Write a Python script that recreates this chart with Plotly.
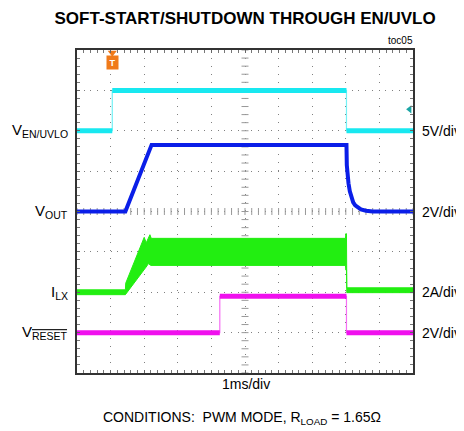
import plotly.graph_objects as go
import numpy as np

# ---------------- data (time in ms, signals in physical units) ----------------
en_t = [0, 1.05, 1.05, 8.02, 8.02, 10]
en_v = [0, 0, 5.0, 5.0, 0, 0]                       # V, 5V/div

out_t = [0, 1.44, 2.22, 8.02, 8.03, 8.05, 8.08, 8.12, 8.16, 8.22, 8.28, 8.36, 8.45, 8.6, 8.8, 10]
out_v = [0, 0, 3.3, 3.3, 2.3, 1.8, 1.4, 1.0, 0.73, 0.45, 0.3, 0.18, 0.1, 0.04, 0, 0]   # V, 2V/div

ilx_up_t = [0, 1.44, 1.45, 2.00, 2.06, 2.17, 2.21, 7.99, 8.00, 8.02, 8.03, 10]
ilx_up_v = [0.12, 0.12, 0.45, 2.72, 2.45, 2.85, 2.67, 2.67, 2.90, 2.90, 0.22, 0.22]   # A
ilx_lo_t = [0, 1.44, 2.08, 2.12, 2.20, 7.99, 8.00, 8.02, 8.03, 10]
ilx_lo_v = [-0.12, -0.12, 1.30, 1.42, 1.33, 1.33, 1.10, 1.10, -0.02, -0.02]            # A, 2A/div

rst_t = [0, 4.25, 4.25, 8.02, 8.02, 10]
rst_v = [0, 0, 1.8, 1.8, 0, 0]                      # V, 2V/div

# channel display settings: (offset in divisions, units per division)
EN_OFF, EN_SC = 6, 5.0
OUT_OFF, OUT_SC = 4, 2.0
ILX_OFF, ILX_SC = 2, 2.0
RST_OFF, RST_SC = 1, 2.0

C_EN = "#18E8F0"
C_OUT = "#0A1EE8"
C_ILX = "#22EE11"
C_RST = "#F010EE"

FONT = "Liberation Sans Narrow, Arial Narrow, Liberation Sans, Arial, sans-serif"


def scaled(vals, off, sc):
    return [off + v / sc for v in vals]


def flat_segments(t, y):
    """split a path where it jumps vertically so the thick trace skips the edges"""
    xs, ys = [t[0]], [y[0]]
    for i in range(1, len(t)):
        if t[i] == t[i - 1]:
            xs.append(None); ys.append(None)
        xs.append(t[i]); ys.append(y[i])
    return xs, ys


fig = go.Figure()

# center crosshair minor ticks (graticule)
minor = np.round(np.arange(0, 10.001, 0.2), 3)
minor_y = np.round(np.arange(0, 8.001, 0.2), 3)
fig.add_trace(go.Scatter(x=minor, y=[4] * len(minor), mode="markers",
                         marker=dict(symbol="line-ns", size=5, line=dict(color="#999", width=1)),
                         hoverinfo="skip", showlegend=False))
fig.add_trace(go.Scatter(x=[5] * len(minor_y), y=minor_y, mode="markers",
                         marker=dict(symbol="line-ew", size=5, line=dict(color="#999", width=1)),
                         hoverinfo="skip", showlegend=False))


def add_channel(t, v, off, sc, color, w=5):
    y = scaled(v, off, sc)
    fig.add_trace(go.Scatter(x=t, y=y, mode="lines", line=dict(color=color, width=1.2),
                             opacity=0.6, hoverinfo="skip", showlegend=False))
    xs, ys = flat_segments(t, y)
    fig.add_trace(go.Scatter(x=xs, y=ys, mode="lines", line=dict(color=color, width=w),
                             connectgaps=False, hoverinfo="skip", showlegend=False))


add_channel(en_t, en_v, EN_OFF, EN_SC, C_EN)
add_channel(out_t, out_v, OUT_OFF, OUT_SC, C_OUT, w=4)

# inductor current band
poly_t = list(ilx_up_t) + list(ilx_lo_t[::-1])
poly_v = scaled(list(ilx_up_v) + list(ilx_lo_v[::-1]), ILX_OFF, ILX_SC)
fig.add_trace(go.Scatter(x=poly_t, y=poly_v, mode="lines", fill="toself", fillcolor=C_ILX,
                         line=dict(color=C_ILX, width=1), hoverinfo="skip", showlegend=False))

add_channel(rst_t, rst_v, RST_OFF, RST_SC, C_RST)

# trigger marker and level marker
fig.add_trace(go.Scatter(x=[en_t[1]], y=[7.93], mode="markers", cliponaxis=False,
                         marker=dict(symbol="triangle-down", size=8, color="#F07A1A"),
                         hoverinfo="skip", showlegend=False))
fig.add_annotation(x=en_t[1], y=7.7, xref="x", yref="y", text="<b>T</b>", showarrow=False,
                   font=dict(color="white", size=9, family="Liberation Sans"),
                   bgcolor="#F07A1A", borderpad=1, width=9, height=11)
fig.add_trace(go.Scatter(x=[9.9], y=[6.53], mode="markers", cliponaxis=False,
                         marker=dict(symbol="triangle-left", size=7, color="#1AA5A5"),
                         hoverinfo="skip", showlegend=False))

# channel labels
left = [("V<sub>EN/UVLO</sub>", EN_OFF),
        ("V<sub>OUT</sub>", OUT_OFF),
        ("I<sub>LX</sub>", ILX_OFF),
        ("V<sub><span style=\"text-decoration:overline\">RESET</span></sub>", RST_OFF)]
for txt, yv in left:
    fig.add_annotation(x=-0.022, y=yv, xref="paper", yref="y", text=txt, showarrow=False,
                       xanchor="right", yanchor="middle", font=dict(size=15, family=FONT, color="black"))
right = [("5V/div", EN_OFF), ("2V/div", OUT_OFF), ("2A/div", ILX_OFF), ("2V/div", RST_OFF)]
for txt, yv in right:
    fig.add_annotation(x=1.02, y=yv, xref="paper", yref="y", text=txt, showarrow=False,
                       xanchor="left", yanchor="middle", font=dict(size=14, family=FONT, color="black"))

fig.add_annotation(x=1.006, y=1.028, xref="paper", yref="paper", text="toc05", showarrow=False,
                   xanchor="right", yanchor="middle", font=dict(size=10, family=FONT, color="black"))
fig.add_annotation(x=0.5, y=-0.034, xref="paper", yref="paper", text="1ms/div", showarrow=False,
                   xanchor="center", yanchor="middle", xshift=1, font=dict(size=14, family=FONT, color="black"))
fig.add_annotation(x=0.5, y=-0.139, xref="paper", yref="paper",
                   text="CONDITIONS:  PWM MODE, R<sub>LOAD</sub> = 1.65Ω", showarrow=False,
                   xanchor="center", yanchor="middle", xshift=-3, font=dict(size=14, family=FONT, color="black"))

axis_common = dict(showticklabels=False, showline=True, linecolor="#333", linewidth=2, mirror="allticks",
                   ticks="inside", ticklen=3, tickcolor="#666", showgrid=True, gridcolor="#808080",
                   gridwidth=1, zeroline=False, fixedrange=True)
fig.update_xaxes(range=[0, 10], dtick=1, tick0=0, griddash="1px,7px",
                 minor=dict(dtick=0.2, ticks="inside", ticklen=3, tickcolor="#777", showgrid=False),
                 **axis_common)
fig.update_yaxes(range=[0, 8], dtick=1, tick0=0, griddash="1px,5.7px",
                 minor=dict(dtick=0.2, ticks="inside", ticklen=3, tickcolor="#777", showgrid=False),
                 **axis_common)

# page body has an 8px margin, so the figure is 8px smaller than the window
fig.update_layout(
    width=456, height=423,
    margin=dict(l=69, r=51, t=42, b=58),
    paper_bgcolor="white", plot_bgcolor="white",
    title=dict(text="<b>SOFT-START/SHUTDOWN THROUGH EN/UVLO</b>", x=0.52, xanchor="center",
               y=0.976, yanchor="middle", font=dict(size=17, family=FONT, color="black")),
    showlegend=False,
)

fig.write_html("out.html")
